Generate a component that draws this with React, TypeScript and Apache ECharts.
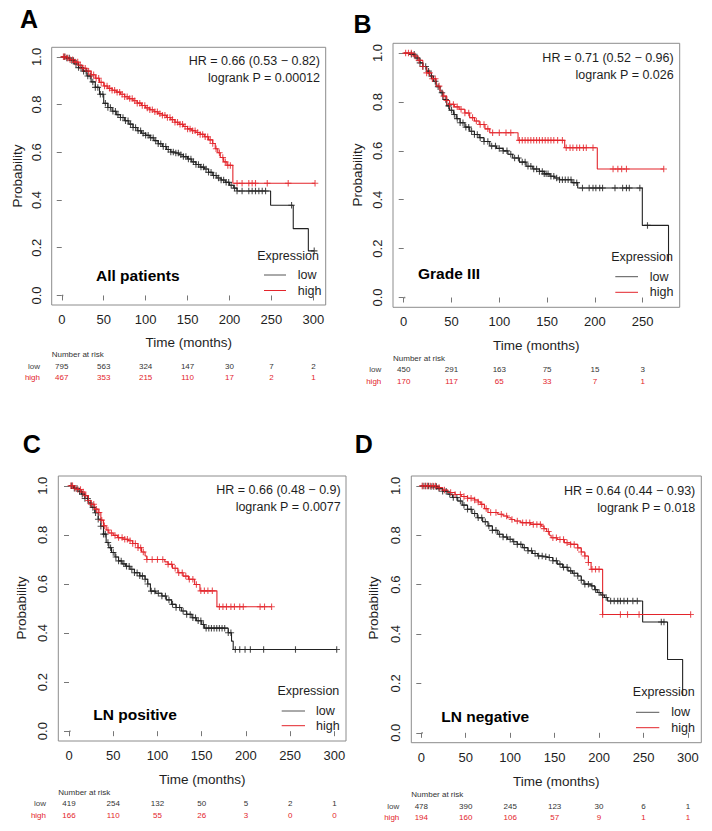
import React, { useEffect, useRef } from "react";
import * as echarts from "echarts";

// ---------- DATA ----------
const panelLetters = ["A", "B", "C", "D"];
const panelTitles = ["All patients", "Grade III", "LN positive", "LN negative"];
const hrTexts = ["HR = 0.66 (0.53 \u2212 0.82)", "HR = 0.71 (0.52 \u2212 0.96)", "HR = 0.66 (0.48 \u2212 0.9)", "HR = 0.64 (0.44 \u2212 0.93)"];
const pTexts = ["logrank P = 0.00012", "logrank P = 0.026", "logrank P = 0.0077", "logrank P = 0.018"];
const groupNames = ["low", "high"];
const legendTitle = "Expression";
const xAxisTitle = "Time (months)";
const yAxisTitle = "Probability";
const riskTitle = "Number at risk";

const xTicks300 = [0, 50, 100, 150, 200, 250, 300];
const xTicks250 = [0, 50, 100, 150, 200, 250];
const yTicks = [0, 0.2, 0.4, 0.6, 0.8, 1];

const riskALow = [795, 563, 324, 147, 30, 7, 2];
const riskAHigh = [467, 353, 215, 110, 17, 2, 1];
const riskBLow = [450, 291, 163, 75, 15, 3];
const riskBHigh = [170, 117, 65, 33, 7, 1];
const riskCLow = [419, 254, 132, 50, 5, 2, 1];
const riskCHigh = [166, 110, 55, 26, 3, 0, 0];
const riskDLow = [478, 390, 245, 123, 30, 6, 1];
const riskDHigh = [194, 160, 106, 57, 9, 1, 1];

// Kaplan-Meier steps: [time, survival from this time on]
const stepsALow = [[0, 1], [5, 0.995], [10, 0.985], [15, 0.97], [20, 0.955], [25, 0.94], [30, 0.92], [35, 0.895], [40, 0.872], [45, 0.843], [50, 0.805], [55, 0.788], [60, 0.772], [65, 0.758], [70, 0.746], [75, 0.732], [80, 0.718], [85, 0.704], [90, 0.69], [95, 0.68], [100, 0.671], [105, 0.661], [110, 0.649], [115, 0.636], [120, 0.624], [125, 0.612], [130, 0.601], [135, 0.597], [140, 0.59], [145, 0.582], [150, 0.572], [155, 0.56], [160, 0.549], [165, 0.538], [170, 0.53], [175, 0.516], [180, 0.503], [185, 0.492], [190, 0.484], [195, 0.474], [200, 0.462], [205, 0.45], [209, 0.438], [249, 0.378], [276, 0.28], [294, 0.187], [301, 0.187]];
const stepsAHigh = [[0, 1], [5, 0.995], [10, 0.988], [15, 0.978], [20, 0.965], [25, 0.952], [30, 0.94], [35, 0.925], [40, 0.91], [45, 0.893], [50, 0.878], [55, 0.868], [60, 0.86], [65, 0.852], [70, 0.843], [75, 0.833], [80, 0.825], [85, 0.816], [90, 0.806], [95, 0.796], [100, 0.786], [105, 0.778], [110, 0.77], [115, 0.762], [120, 0.755], [125, 0.746], [130, 0.737], [135, 0.726], [140, 0.717], [145, 0.708], [150, 0.698], [155, 0.69], [160, 0.683], [165, 0.675], [170, 0.665], [175, 0.652], [180, 0.637], [183, 0.615], [186, 0.598], [189, 0.578], [193, 0.56], [197, 0.545], [204, 0.47], [302, 0.47]];
const stepsBLow = [[0, 1], [6, 0.995], [12, 0.98], [17, 0.96], [20, 0.945], [24, 0.926], [27, 0.906], [31, 0.885], [34, 0.862], [38, 0.838], [41, 0.81], [45, 0.784], [48, 0.766], [52, 0.749], [55, 0.732], [59, 0.715], [64, 0.697], [69, 0.68], [74, 0.667], [79, 0.654], [84, 0.638], [90, 0.62], [97, 0.61], [104, 0.6], [109, 0.586], [114, 0.571], [121, 0.554], [128, 0.537], [135, 0.526], [142, 0.516], [147, 0.506], [153, 0.496], [158, 0.489], [163, 0.482], [176, 0.47], [182, 0.448], [249.6, 0.295], [277, 0.148]];
const stepsBHigh = [[0, 1], [10, 0.988], [15, 0.97], [20, 0.945], [24, 0.919], [29, 0.895], [34, 0.865], [38, 0.845], [41, 0.824], [45, 0.806], [48, 0.79], [53, 0.78], [58, 0.77], [64, 0.755], [69, 0.736], [74, 0.722], [79, 0.708], [85, 0.69], [90, 0.674], [119.6, 0.643], [168.4, 0.613], [202.5, 0.526], [272, 0.526]];
const stepsCLow = [[0, 1], [5, 0.99], [10, 0.978], [14, 0.966], [18, 0.948], [22, 0.93], [25, 0.912], [29, 0.89], [33, 0.864], [36, 0.835], [39, 0.803], [42, 0.769], [45, 0.748], [48, 0.728], [52, 0.71], [56, 0.694], [60, 0.682], [64, 0.672], [69, 0.66], [74, 0.646], [80, 0.633], [86, 0.619], [89, 0.6], [92, 0.571], [98, 0.562], [105, 0.551], [110, 0.535], [116, 0.517], [121, 0.504], [127, 0.49], [133, 0.476], [139, 0.462], [144, 0.45], [150, 0.435], [153, 0.42], [176, 0.42], [180, 0.401], [183.7, 0.367], [185.6, 0.333], [302.6, 0.333]];
const stepsCHigh = [[0, 1], [6, 0.99], [10, 0.985], [14, 0.975], [18, 0.96], [22, 0.94], [25, 0.925], [29, 0.905], [33, 0.891], [36, 0.86], [39, 0.837], [42, 0.82], [45, 0.808], [50, 0.798], [55, 0.789], [61, 0.782], [67, 0.776], [72, 0.765], [78, 0.748], [82, 0.73], [86, 0.714], [88, 0.7], [108.3, 0.69], [112, 0.68], [117, 0.664], [123, 0.646], [129, 0.632], [135, 0.619], [142, 0.598], [148, 0.572], [167.2, 0.507], [229, 0.507]];
const stepsDLow = [[0, 1], [10, 0.997], [18, 0.989], [24, 0.978], [30, 0.966], [35, 0.953], [41, 0.939], [46, 0.922], [52, 0.905], [57, 0.888], [63, 0.871], [69, 0.855], [75, 0.838], [80, 0.82], [86, 0.804], [92, 0.793], [97, 0.784], [103, 0.774], [108, 0.763], [114, 0.75], [120, 0.737], [125, 0.726], [131, 0.716], [137, 0.713], [142, 0.71], [148, 0.697], [153, 0.683], [159, 0.67], [165, 0.656], [170, 0.646], [176, 0.635], [180, 0.618], [183, 0.602], [191, 0.595], [195, 0.58], [198, 0.568], [202, 0.558], [206, 0.548], [209.6, 0.534], [249, 0.449], [277, 0.297], [294, 0.15]];
const stepsDHigh = [[0, 1], [18, 0.993], [24, 0.983], [30, 0.973], [38, 0.965], [45, 0.957], [52, 0.95], [60, 0.943], [64, 0.935], [67, 0.925], [71, 0.908], [75, 0.892], [86, 0.885], [92, 0.878], [97, 0.871], [101, 0.864], [105, 0.858], [112, 0.851], [123, 0.844], [135, 0.837], [138, 0.827], [141, 0.815], [144, 0.8], [146, 0.79], [153, 0.783], [161, 0.77], [168, 0.763], [176, 0.749], [180, 0.732], [184, 0.716], [188, 0.69], [191, 0.662], [204, 0.479], [303, 0.479]];

// censoring times
const censALow = [3, 6, 9, 12, 14, 17, 20, 23, 26, 29, 31, 34, 37, 40, 43, 46, 49, 52, 55, 58, 61, 64, 67, 70, 73, 76, 79, 82, 85, 88, 91, 94, 97, 100, 103, 106, 109, 112, 115, 118, 121, 124, 127, 130, 133, 136, 139, 142, 145, 148, 151, 154, 157, 160, 163, 166, 169, 172, 175, 178, 181, 184, 187, 190, 193, 196, 199, 202, 206, 209, 215, 223, 227, 231, 235, 239, 243, 274, 301];
const censAHigh = [2, 4, 7, 10, 13, 16, 19, 22, 25, 28, 32, 35, 38, 41, 44, 47, 51, 54, 57, 60, 63, 66, 69, 72, 75, 78, 81, 84, 87, 90, 93, 96, 99, 102, 105, 108, 111, 114, 117, 120, 123, 126, 129, 132, 135, 138, 141, 144, 147, 150, 153, 156, 159, 162, 165, 168, 171, 174, 177, 180, 184, 188, 192, 195, 198, 201, 209, 215, 223, 227, 231, 245, 270, 302];
const censBLow = [8, 11, 14, 17, 20, 23, 26, 29, 33, 36, 40, 44, 47, 50, 53, 56, 59, 62, 65, 68, 71, 74, 77, 80, 84, 88, 92, 96, 100, 104, 108, 112, 116, 120, 124, 127, 130, 133, 136, 139, 142, 145, 147, 149, 151, 154, 157, 160, 163, 166, 169, 172, 175, 178, 181, 187, 194, 198, 201, 205, 208, 221, 229, 233, 236, 247, 255];
const censBHigh = [2, 5, 8, 12, 16, 20, 24, 27, 30, 33, 37, 42, 45, 48, 52, 56, 60, 64, 68, 72, 76, 80, 84, 88, 93, 100, 107, 112, 121, 124, 127, 130, 133, 136, 139, 142, 145, 148, 151, 154, 157, 161, 166, 170, 174, 177, 181, 184, 188, 191, 198, 219, 224, 228, 233, 272];
const censCLow = [3, 6, 9, 12, 15, 18, 21, 24, 27, 30, 33, 36, 39, 41, 44, 47, 50, 53, 56, 59, 62, 65, 68, 71, 74, 77, 80, 83, 86, 89, 93, 97, 101, 105, 109, 113, 117, 121, 125, 129, 133, 137, 140, 143, 146, 149, 152, 155, 158, 161, 164, 167, 170, 173, 176, 180, 183, 188, 193, 199, 205, 220, 256, 302.6];
const censCHigh = [2, 4, 7, 10, 13, 16, 19, 22, 25, 28, 31, 34, 37, 40, 44, 48, 52, 56, 60, 63, 66, 69, 72, 75, 78, 81, 84, 88, 94, 100, 106, 112, 116, 120, 124, 128, 132, 136, 140, 144, 149, 153, 157, 162, 170, 174, 178, 183, 187, 193, 197, 216, 221, 229];
const censDLow = [2, 5, 8, 11, 14, 17, 20, 24, 28, 32, 36, 40, 44, 48, 52, 56, 60, 64, 68, 72, 76, 80, 84, 88, 92, 96, 100, 104, 108, 112, 116, 120, 124, 128, 132, 136, 140, 144, 148, 152, 156, 160, 164, 168, 172, 176, 180, 184, 188, 192, 196, 200, 204, 208, 213, 217, 221, 224, 228, 232, 238, 243, 270, 273];
const censDHigh = [1, 4, 7, 10, 13, 16, 20, 26, 33, 38, 44, 48, 52, 56, 60, 64, 68, 73, 78, 84, 90, 96, 102, 108, 114, 118, 122, 126, 130, 134, 138, 143, 148, 152, 156, 160, 164, 168, 172, 176, 180, 184, 188, 192, 196, 200, 204, 224, 232, 245, 303];

const originDot = [[1, 0]];

// ---------- LAYOUT / STYLE ----------
const FONT = "'Liberation Sans', Arial, Helvetica, sans-serif";
const C_LOW = "#222222";
const C_HIGH = "#e3242b";
const C_TEXT = "#1e1e1e";
const C_BOX = "#8c8c8c";

const panels = [
  { grid: { left: 51.7, top: 47.3, width: 274, height: 257.7 }, xMin: -12, xMax: 314.7, ticks: xTicks300, low: stepsALow, high: stepsAHigh, cLow: censALow, cHigh: censAHigh, rLow: riskALow, rHigh: riskAHigh,
    letter: [29, 19], prob: [17, 176], timeY: 342, hr: [320, 61, 78], title: [96, 275],
    leg: { exprX: 319, exprY: 256, x1: 264, x2: 286, lowY: 275, highY: 290.5, textX: 297.7 },
    risk: { headX: 51.7, headY: 354, labX: 40, lowY: 366, highY: 377 } },
  { grid: { left: 393, top: 43.3, width: 286.7, height: 264 }, xMin: -11.2, xMax: 288.7, ticks: xTicks250, low: stepsBLow, high: stepsBHigh, cLow: censBLow, cHigh: censBHigh, rLow: riskBLow, rHigh: riskBHigh,
    letter: [362.5, 23.5], prob: [357, 175], timeY: 345.7, hr: [673.7, 58.3, 75], title: [418, 273.3],
    leg: { exprX: 673, exprY: 257.3, x1: 615.3, x2: 638, lowY: 276.7, highY: 292.3, textX: 649.7 },
    risk: { headX: 393, headY: 358, labX: 381.3, lowY: 369, highY: 381 } },
  { grid: { left: 58.3, top: 476, width: 287.7, height: 265 }, xMin: -12.1, xMax: 313.1, ticks: xTicks300, low: stepsCLow, high: stepsCHigh, cLow: censCLow, cHigh: censCHigh, rLow: riskCLow, rHigh: riskCHigh,
    letter: [31.7, 444], prob: [21.7, 608], timeY: 779, hr: [340.7, 490, 507.3], title: [93.3, 714.3],
    leg: { exprX: 339.3, exprY: 690.7, x1: 281.7, x2: 305, lowY: 711, highY: 725.7, textX: 316 },
    risk: { headX: 58.3, headY: 792, labX: 46, lowY: 803, highY: 815 } },
  { grid: { left: 411.3, top: 476, width: 290, height: 266.7 }, xMin: -11.25, xMax: 315, ticks: xTicks300, low: stepsDLow, high: stepsDHigh, cLow: censDLow, cHigh: censDHigh, rLow: riskDLow, rHigh: riskDHigh,
    letter: [363.7, 444], prob: [373.7, 608], timeY: 781, hr: [695.3, 491, 507.7], title: [441.3, 716],
    leg: { exprX: 694.7, exprY: 692.3, x1: 636, x2: 659.3, lowY: 712.3, highY: 727.7, textX: 671.3 },
    risk: { headX: 411.3, headY: 794, labX: 399.3, lowY: 806, highY: 817 } },
];

const PLUS = "path://M0,5L10,5M5,0L5,10";

function valueAt(steps: number[][], t: number) {
  let v = steps[0][1];
  for (const p of steps) {
    if (p[0] <= t) v = p[1];
    else break;
  }
  return v;
}

function txt(x: number, y: number, text: string, fontSize: number, opts: any = {}) {
  return {
    type: "text",
    x,
    y,
    rotation: opts.rotation || 0,
    silent: true,
    style: {
      text,
      fontSize,
      fontFamily: FONT,
      fontWeight: opts.bold ? "bold" : "normal",
      fill: opts.color || C_TEXT,
      align: opts.align || "left",
      verticalAlign: "middle",
    },
  };
}

export default function App() {
  const ref = useRef<HTMLDivElement>(null);

  useEffect(() => {
    if (!ref.current) return;
    const chart = echarts.init(ref.current, null, { renderer: "svg" });

    const grids: any[] = [];
    const xAxes: any[] = [];
    const yAxes: any[] = [];
    const series: any[] = [];

    panels.forEach((p, i) => {
      grids.push({ ...p.grid, show: true, borderColor: C_BOX, borderWidth: 1, backgroundColor: "transparent", containLabel: false });
      xAxes.push({
        type: "value",
        gridIndex: i,
        min: p.xMin,
        max: p.xMax,
        axisLine: { show: false },
        splitLine: { show: false },
        axisTick: { show: true, inside: false, length: 5, customValues: p.ticks, lineStyle: { color: "#777" } },
        axisLabel: { customValues: p.ticks, fontSize: 13, fontFamily: FONT, color: C_TEXT, margin: 8 },
      });
      yAxes.push({
        type: "value",
        gridIndex: i,
        min: -0.04,
        max: 1.04,
        axisLine: { show: false },
        splitLine: { show: false },
        axisTick: { show: true, inside: false, length: 5, customValues: yTicks, lineStyle: { color: "#777" } },
        axisLabel: { customValues: yTicks, rotate: 90, fontSize: 13, fontFamily: FONT, color: C_TEXT, margin: 9, formatter: (v: number) => v.toFixed(1) },
      });
      const lineSeries = (data: number[][], color: string) => ({
        type: "line",
        xAxisIndex: i,
        yAxisIndex: i,
        data,
        step: "end",
        symbol: "none",
        lineStyle: { color, width: 1.1 },
        silent: true,
        z: 2,
      });
      const censSeries = (times: number[], steps: number[][], color: string) => ({
        type: "scatter",
        xAxisIndex: i,
        yAxisIndex: i,
        data: times.map((t) => [t, valueAt(steps, t)]),
        symbol: PLUS,
        symbolSize: 6.5,
        itemStyle: { color: "none", borderColor: color, borderWidth: 1.1 },
        silent: true,
        z: 3,
      });
      series.push(lineSeries(p.low, C_LOW));
      series.push(lineSeries(p.high, C_HIGH));
      series.push(censSeries(p.cLow, p.low, C_LOW));
      series.push(censSeries(p.cHigh, p.high, C_HIGH));
      series.push({
        type: "scatter",
        xAxisIndex: i,
        yAxisIndex: i,
        data: originDot,
        symbol: "circle",
        symbolSize: 1.5,
        itemStyle: { color: "#666" },
        silent: true,
      });
    });

    chart.setOption({
      animation: false,
      backgroundColor: "#ffffff",
      grid: grids,
      xAxis: xAxes,
      yAxis: yAxes,
      series,
    });

    const graphics: any[] = [];
    panels.forEach((p, i) => {
      graphics.push(txt(p.letter[0], p.letter[1], panelLetters[i], 25, { bold: true, align: "center", color: "#000" }));
      graphics.push(txt(p.prob[0], p.prob[1], yAxisTitle, 13.5, { align: "center", rotation: Math.PI / 2 }));
      graphics.push(txt(p.grid.left + p.grid.width / 2, p.timeY, xAxisTitle, 13.5, { align: "center" }));
      graphics.push(txt(p.hr[0], p.hr[1], hrTexts[i], 12.5, { align: "right" }));
      graphics.push(txt(p.hr[0], p.hr[2], pTexts[i], 12.5, { align: "right" }));
      graphics.push(txt(p.title[0], p.title[1], panelTitles[i], 15.5, { bold: true, color: "#000" }));
      // legend
      graphics.push(txt(p.leg.exprX, p.leg.exprY, legendTitle, 12.5, { align: "right" }));
      graphics.push({ type: "line", silent: true, shape: { x1: p.leg.x1, y1: p.leg.lowY, x2: p.leg.x2, y2: p.leg.lowY }, style: { stroke: "#555", lineWidth: 1 } });
      graphics.push({ type: "line", silent: true, shape: { x1: p.leg.x1, y1: p.leg.highY, x2: p.leg.x2, y2: p.leg.highY }, style: { stroke: C_HIGH, lineWidth: 1 } });
      graphics.push(txt(p.leg.textX, p.leg.lowY, groupNames[0], 12.5));
      graphics.push(txt(p.leg.textX, p.leg.highY, groupNames[1], 12.5));
      // number at risk
      graphics.push(txt(p.risk.headX, p.risk.headY, riskTitle, 8, { color: "#333" }));
      graphics.push(txt(p.risk.labX, p.risk.lowY, groupNames[0], 8, { align: "right", color: "#444" }));
      graphics.push(txt(p.risk.labX, p.risk.highY, groupNames[1], 8, { align: "right", color: C_HIGH }));
      p.ticks.forEach((t, k) => {
        const px = chart.convertToPixel({ xAxisIndex: i }, t) as number;
        graphics.push(txt(px, p.risk.lowY, String(p.rLow[k]), 8, { align: "center", color: "#333" }));
        graphics.push(txt(px, p.risk.highY, String(p.rHigh[k]), 8, { align: "center", color: C_HIGH }));
      });
    });
    chart.setOption({ graphic: graphics });

    return () => chart.dispose();
  }, []);

  return <div ref={ref} style={{ position: "absolute", left: 0, top: 0, width: 712, height: 831, background: "#fff" }} />;
}
